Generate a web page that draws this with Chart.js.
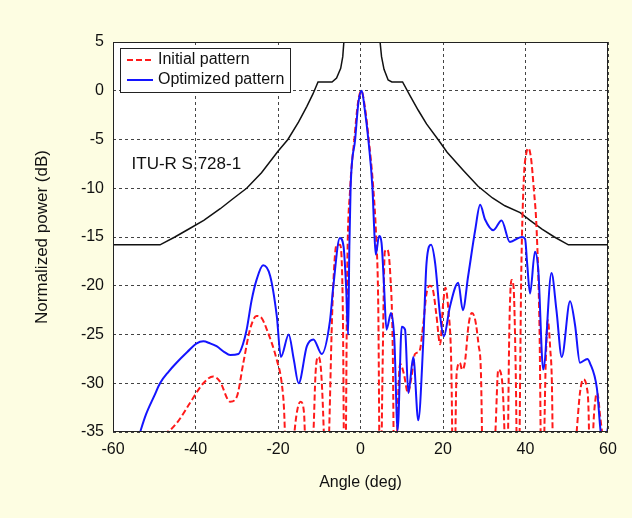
<!DOCTYPE html>
<html>
<head>
<meta charset="utf-8">
<script src="https://cdn.jsdelivr.net/npm/chart.js@4.4.0/dist/chart.umd.min.js"></script>
<style>
  html, body { margin: 0; padding: 0; background: #fdfde2; }
  canvas { display: block; }
</style>
</head>
<body>
<canvas id="c" width="632" height="518"></canvas>
<script>
// ITU-R S.728-1 mask (black)
const maskAngle = [-60, -48.6, -45, -41.3, -38, -34, -31, -27.6, -24, -20, -17.6, -15, -13, -11.5, -10.3, -6.9, -5.8, -4.8, -4.3, -4.0, -3.6,
  4.4, 4.7, 5.1, 5.7, 6.7, 7.6, 10.2, 12, 14, 16, 18.8, 21, 25, 28.5, 32, 35, 38.7, 41.1, 44, 47, 50.4, 60];
const maskDb = [-15.8, -15.8, -15.0, -14.1, -13.3, -12.1, -11.1, -10.0, -8.4, -6.2, -5.0, -3.2, -1.6, -0.3, 0.9, 0.9, 1.3, 2.3, 3.5, 5.2, 8,
  8, 5.2, 3.5, 2.2, 1.1, 0.9, 0.9, -0.5, -2.0, -3.4, -5.0, -6.3, -8.2, -9.8, -11.0, -11.8, -12.5, -13.3, -14.2, -15.0, -15.8, -15.8];

// Initial pattern (red dashed)
const initAngle = [-51.5, -50, -47.4, -44.6, -41.3, -38.1, -35.7, -34.1, -31.6, -30.0, -28.4, -26.8, -25.2, -24.0, -22.7, -20.3, -19.1, -18.5, -17.6,
  -16.0, -15.2, -14.5, -13.7, -12.8, -11.4, -10.9, -10.3, -9.6, -8.9, -8.3, -7.6, -6.8, -5.8, -5.0, -4.3, -3.8,
  -3.2, -2.5, -1.5, -0.6, 0.2, 1.0, 2.0, 3.1, 3.8, 4.3, 4.8, 5.3, 5.9, 6.5, 7.2, 7.8, 8.3,
  9.0, 9.6, 10.5, 11.5, 12.3, 13.2, 14.3, 15.2, 16.0, 16.8, 17.6, 18.4, 19.3, 20.0, 20.6, 21.3, 22.0, 22.6,
  23.3, 24.1, 24.6, 25.3, 26.2, 27.0, 27.8, 28.6, 29.2, 29.9, 31.2, 32.7, 33.4, 34.2, 34.9, 35.4,
  36.1, 36.6, 37.1, 37.6, 38.2, 39.0, 39.6, 40.2, 40.7, 41.3, 42.0, 42.7, 43.4, 44.0,
  44.9, 45.4, 46.0, 46.4, 46.9, 49.5, 52.4, 53.2, 54.0, 54.8, 55.3, 55.8, 56.4, 57.0, 57.4, 58.1, 58.8, 60];
const initDb = [-37, -35.3, -35.1, -34.1, -32.0, -30.0, -29.3, -29.8, -31.9, -31.4, -27.9, -24.5, -23.1, -23.3, -24.5, -27.6, -30.0, -33, -45,
  -35, -32.5, -31.9, -33, -45, -35, -29, -27.3, -28.5, -35, -45, -35, -22, -15.8, -15.8, -22, -45,
  -18, -10, -5, -1.2, 0, -1.5, -5, -10, -15, -22, -45, -30, -16.5, -16.3, -18.7, -26, -45,
  -33, -28, -29, -31, -29.5, -27, -26.7, -24, -20.8, -20.0, -20.5, -23, -26, -22, -20.2, -22.5, -28, -45,
  -29, -27.9, -28.6, -27.9, -24, -22.8, -23.5, -26, -29, -45, -45, -35, -28.6, -29.3, -35, -45,
  -24, -19.4, -20.1, -28, -45, -18, -9, -6.4, -5.9, -6.8, -10, -14.3, -24.5, -45,
  -28, -23.5, -26.5, -30, -45, -50, -35, -31, -29.6, -30.3, -33, -45, -35, -31.5, -31, -33.4, -36, -42];

// Optimized pattern (blue)
const optAngle = [-53.8, -52, -50, -48.6, -46.5, -44.6, -42, -39.7, -38.1, -36.5, -34.9, -33, -31.6, -29.6, -28.5, -27.6, -26.4, -25.2, -23.6,
  -21.9, -20.3, -19.3, -17.4, -16.2, -15.0, -13.0, -11.4, -9.4, -7.4, -6.6, -5.0, -4.1, -3.5, -3.0, -2.7, -2.4, -1.3, -0.5,
  0.3, 1.0, 1.9, 2.9, 3.3, 3.7, 4.5, 5.1, 5.7, 6.3, 7.4, 8.2, 9.0, 10.0, 10.8, 11.6, 12.8, 14.0, 15.2, 16.0, 17.1, 18.1,
  19.3, 20.2, 21.7, 23.7, 24.8, 26.1, 27.8, 29.0, 30.2, 32.2, 34.2, 36.2, 39.1, 39.9, 40.4, 41.1, 42.3, 43.1, 44.3,
  46.3, 47.5, 48.8, 50.8, 52.0, 53.2, 55.0, 55.6, 57.3, 58.4, 59.3, 60];
const optDb = [-35.5, -33.2, -31.3, -30, -28.8, -27.9, -26.8, -25.9, -25.7, -25.9, -26.2, -26.8, -27.1, -27.0, -26, -24.5, -21.5, -19.4, -17.9,
  -19.0, -23.1, -27.3, -25.0, -27.5, -30, -26.2, -25.5, -27.0, -23.6, -20.1, -15.1, -16.0, -20, -25, -16, -10, -5, -1.2,
  0, -1.8, -5, -10, -14, -16.8, -14.9, -15.6, -20, -24.5, -22.8, -25.5, -34.8, -24.2, -24.5, -31, -27.3, -33.8, -25.9, -17.7, -15.8, -17.7,
  -23.1, -25.2, -22.1, -19.7, -22.5, -19.0, -14.3, -11.7, -13.2, -14.3, -13.3, -15.5, -15.0, -15.2, -17.7, -20.8, -16.5, -18.4, -28.6,
  -18.7, -22.5, -27.3, -21.6, -24, -27.9, -27.5, -27.9, -30.5, -35.5, -36, -34.5];

const seriesNames = ['Initial pattern', 'Optimized pattern'];
const maskLabel = 'ITU-R S.728-1';
const xTitle = 'Angle (deg)';
const yTitle = 'Normalized power (dB)';

const FONT = "'Liberation Sans', Arial, sans-serif";
const pts = (xs, ys) => xs.map((x, i) => ({ x: x, y: ys[i] }));

const decor = {
  id: 'decor',
  beforeDraw(chart) {
    const { ctx, chartArea: a } = chart;
    ctx.save();
    ctx.fillStyle = '#fdfde2';
    ctx.fillRect(0, 0, chart.width, chart.height);
    ctx.fillStyle = '#ffffff';
    ctx.fillRect(a.left, a.top, a.right - a.left, a.bottom - a.top);
    ctx.restore();
  },
  afterDraw(chart) {
    const { ctx, chartArea: a, scales } = chart;
    ctx.save();
    // box around the axes
    ctx.strokeStyle = '#222';
    ctx.lineWidth = 1;
    ctx.strokeRect(a.left + 0.5, a.top + 0.5, a.right - a.left - 1, a.bottom - a.top - 1);

    // mask label
    ctx.fillStyle = '#111';
    ctx.font = '17px ' + FONT;
    ctx.textBaseline = 'middle';
    ctx.fillText(maskLabel, scales.x.getPixelForValue(-55.5), scales.y.getPixelForValue(-7.5));

    // legend
    const lx = a.left + 7, ly = a.top + 6, lw = 170, lh = 44;
    ctx.fillStyle = '#fff';
    ctx.fillRect(lx, ly, lw, lh);
    ctx.strokeStyle = '#222';
    ctx.strokeRect(lx + 0.5, ly + 0.5, lw, lh);
    ctx.font = '16px ' + FONT;
    [1, 2].forEach((di, row) => {
      const ds = chart.data.datasets[di];
      const y = ly + 12 + row * 20;
      ctx.strokeStyle = ds.borderColor;
      ctx.lineWidth = 2;
      ctx.setLineDash(ds.borderDash || []);
      ctx.beginPath();
      ctx.moveTo(lx + 7, y);
      ctx.lineTo(lx + 33, y);
      ctx.stroke();
      ctx.setLineDash([]);
      ctx.fillStyle = '#111';
      ctx.fillText(ds.label, lx + 38, y);
    });
    ctx.restore();
  }
};

new Chart(document.getElementById('c'), {
  type: 'line',
  data: {
    datasets: [
      {
        label: maskLabel,
        data: pts(maskAngle, maskDb),
        borderColor: '#111',
        borderWidth: 1.5,
        pointRadius: 0,
        order: 3
      },
      {
        label: seriesNames[0],
        data: pts(initAngle, initDb),
        borderColor: '#ff1a1a',
        borderWidth: 2,
        borderDash: [6, 3],
        pointRadius: 0,
        cubicInterpolationMode: 'monotone',
        order: 2
      },
      {
        label: seriesNames[1],
        data: pts(optAngle, optDb),
        borderColor: '#1414ff',
        borderWidth: 2,
        pointRadius: 0,
        cubicInterpolationMode: 'monotone',
        order: 1
      }
    ]
  },
  options: {
    responsive: false,
    animation: false,
    devicePixelRatio: 1,
    layout: { padding: { top: 42, right: 24, left: 0, bottom: 0 } },
    plugins: { legend: { display: false }, tooltip: { enabled: false } },
    scales: {
      x: {
        type: 'linear',
        min: -60, max: 60,
        afterFit: s => { s.height = 86; },
        ticks: { stepSize: 20, padding: 8, color: '#111', font: { family: FONT, size: 16 } },
        grid: { color: '#444', lineWidth: 1, drawTicks: false },
        border: { display: false, dash: [3, 3] },
        title: { display: true, text: xTitle, color: '#111', font: { family: FONT, size: 16 }, padding: { top: 0, bottom: 26 } }
      },
      y: {
        type: 'linear',
        min: -35, max: 5,
        afterFit: s => { s.width = 113; },
        ticks: { stepSize: 5, padding: 9, color: '#111', font: { family: FONT, size: 16 } },
        grid: { color: '#444', lineWidth: 1, drawTicks: false },
        border: { display: false, dash: [3, 3] },
        title: { display: true, text: yTitle, color: '#111', font: { family: FONT, size: 17 }, padding: { top: 32, bottom: 0 } }
      }
    }
  },
  plugins: [decor]
});
</script>
</body>
</html>
